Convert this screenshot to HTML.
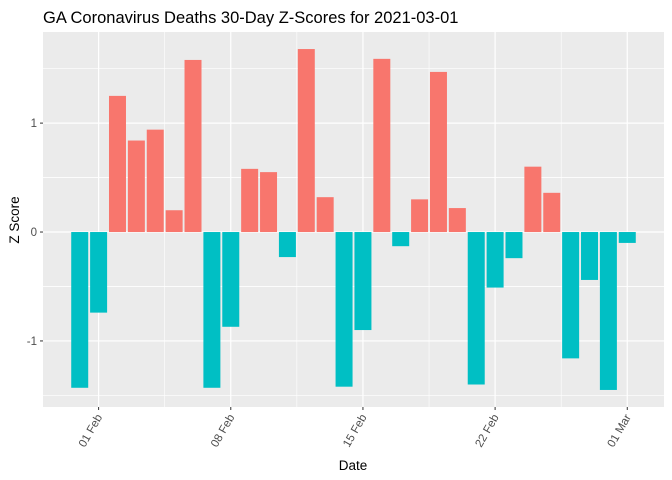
<!DOCTYPE html>
<html><head><meta charset="utf-8"><style>
body{margin:0;background:#fff;}
svg{display:block;font-family:"Liberation Sans",Arial,sans-serif;}
</style></head><body>
<svg id="chart" width="672" height="480" viewBox="0 0 672 480" xmlns="http://www.w3.org/2000/svg">
<text x="43" y="23" font-size="16.5" fill="#000">GA Coronavirus Deaths 30-Day Z-Scores for 2021-03-01</text>
<rect x="43" y="32" width="621" height="375" fill="#ebebeb"/>
<g id="grid"></g>
<g id="bars"></g>
<g id="axes"></g>
<text x="353" y="470" font-size="13.5" text-anchor="middle" fill="#000">Date</text>
<text transform="translate(19,220) rotate(-90)" font-size="13.5" text-anchor="middle" fill="#000">Z Score</text>
</svg>
<script>
const days = ["2021-01-31","2021-02-01","2021-02-02","2021-02-03","2021-02-04","2021-02-05","2021-02-06","2021-02-07","2021-02-08","2021-02-09","2021-02-10","2021-02-11","2021-02-12","2021-02-13","2021-02-14","2021-02-15","2021-02-16","2021-02-17","2021-02-18","2021-02-19","2021-02-20","2021-02-21","2021-02-22","2021-02-23","2021-02-24","2021-02-25","2021-02-26","2021-02-27","2021-02-28","2021-03-01"];
const zScores = [-1.43,-0.74,1.25,0.84,0.94,0.20,1.58,-1.43,-0.87,0.58,0.55,-0.23,1.68,0.32,-1.42,-0.90,1.59,-0.13,0.30,1.47,0.22,-1.40,-0.51,-0.24,0.60,0.36,-1.16,-0.44,-1.45,-0.10];
const xTickDates = ["2021-02-01","2021-02-08","2021-02-15","2021-02-22","2021-03-01"];
const xTickLabels = ["01 Feb","08 Feb","15 Feb","22 Feb","01 Mar"];
const yTicks = [-1,0,1];
const yTickLabels = ["-1","0","1"];

const NS="http://www.w3.org/2000/svg";
const PL=43, PR=664, PT=32, PB=407;
const DAY=86400000;
const t0=Date.parse(days[0]), t1=Date.parse(days[days.length-1]);
const span=(t1-t0)/DAY+0.9, ex=span*0.05;
const xMin=(t0/DAY)-0.45-ex, xMax=(t1/DAY)+0.45+ex;
function x(d){return PL+((Date.parse(d)/DAY)-xMin)/(xMax-xMin)*(PR-PL);}
const vmin=Math.min(0,...zScores), vmax=Math.max(0,...zScores), vex=(vmax-vmin)*0.05;
const yMin=vmin-vex, yMax=vmax+vex;
function y(v){return PB-(v-yMin)/(yMax-yMin)*(PB-PT);}
function mk(tag,attrs,parent){const e=document.createElementNS(NS,tag);for(const k in attrs)e.setAttribute(k,attrs[k]);parent.appendChild(e);return e;}
const grid=document.getElementById('grid'), bars=document.getElementById('bars'), axes=document.getElementById('axes');
// minor y grid
for(let i=0;i<yTicks.length;i++){
  for(const m of [yTicks[i]-0.5, yTicks[i]+0.5]){
    if(m<yMin||m>yMax) continue;
    const l=mk('line',{x1:PL,x2:PR,y1:y(m),y2:y(m),stroke:'#fff','stroke-width':0.6},grid);
    
    
  }
}
// minor x grid
for(let i=0;i<xTickDates.length-1;i++){
  const xm=(x(xTickDates[i])+x(xTickDates[i+1]))/2;
  const l=mk('line',{x1:xm,x2:xm,y1:PT,y2:PB,stroke:'#fff','stroke-width':0.6},grid);
  
  
}
yTicks.forEach((v,i)=>{
  const l=mk('line',{x1:PL,x2:PR,y1:y(v),y2:y(v),stroke:'#fff','stroke-width':1.2},grid);
  
  
  const tk=mk('line',{x1:PL-3,x2:PL,y1:y(v),y2:y(v),stroke:'#333','stroke-width':1},axes);
  
  
  const t=mk('text',{x:PL-6,y:y(v)+4,'font-size':11.5,'text-anchor':'end',fill:'#4d4d4d'},axes);
  t.textContent=yTickLabels[i];
  
  
});
xTickDates.forEach((d,i)=>{
  const xx=x(d);
  const l=mk('line',{x1:xx,x2:xx,y1:PT,y2:PB,stroke:'#fff','stroke-width':1.2},grid);
  
  
  const tk=mk('line',{x1:xx,x2:xx,y1:PB,y2:PB+3,stroke:'#333','stroke-width':1},axes);
  
  
  const t=mk('text',{transform:`translate(${xx+4},${PB+10}) rotate(-60)`,'font-size':11.5,'text-anchor':'end',fill:'#4d4d4d'},axes);
  t.textContent=xTickLabels[i];
  
  
});
const bw=(x(days[1])-x(days[0]))*0.9;
days.forEach((d,i)=>{
  const v=zScores[i];
  const y0=y(0), yv=y(v);
  const r=mk('rect',{x:x(d)-bw/2,y:Math.min(y0,yv),width:bw,height:Math.abs(yv-y0),fill:v>=0?'#f8766d':'#00bfc4'},bars);
  
  
});
</script>
</body></html>
